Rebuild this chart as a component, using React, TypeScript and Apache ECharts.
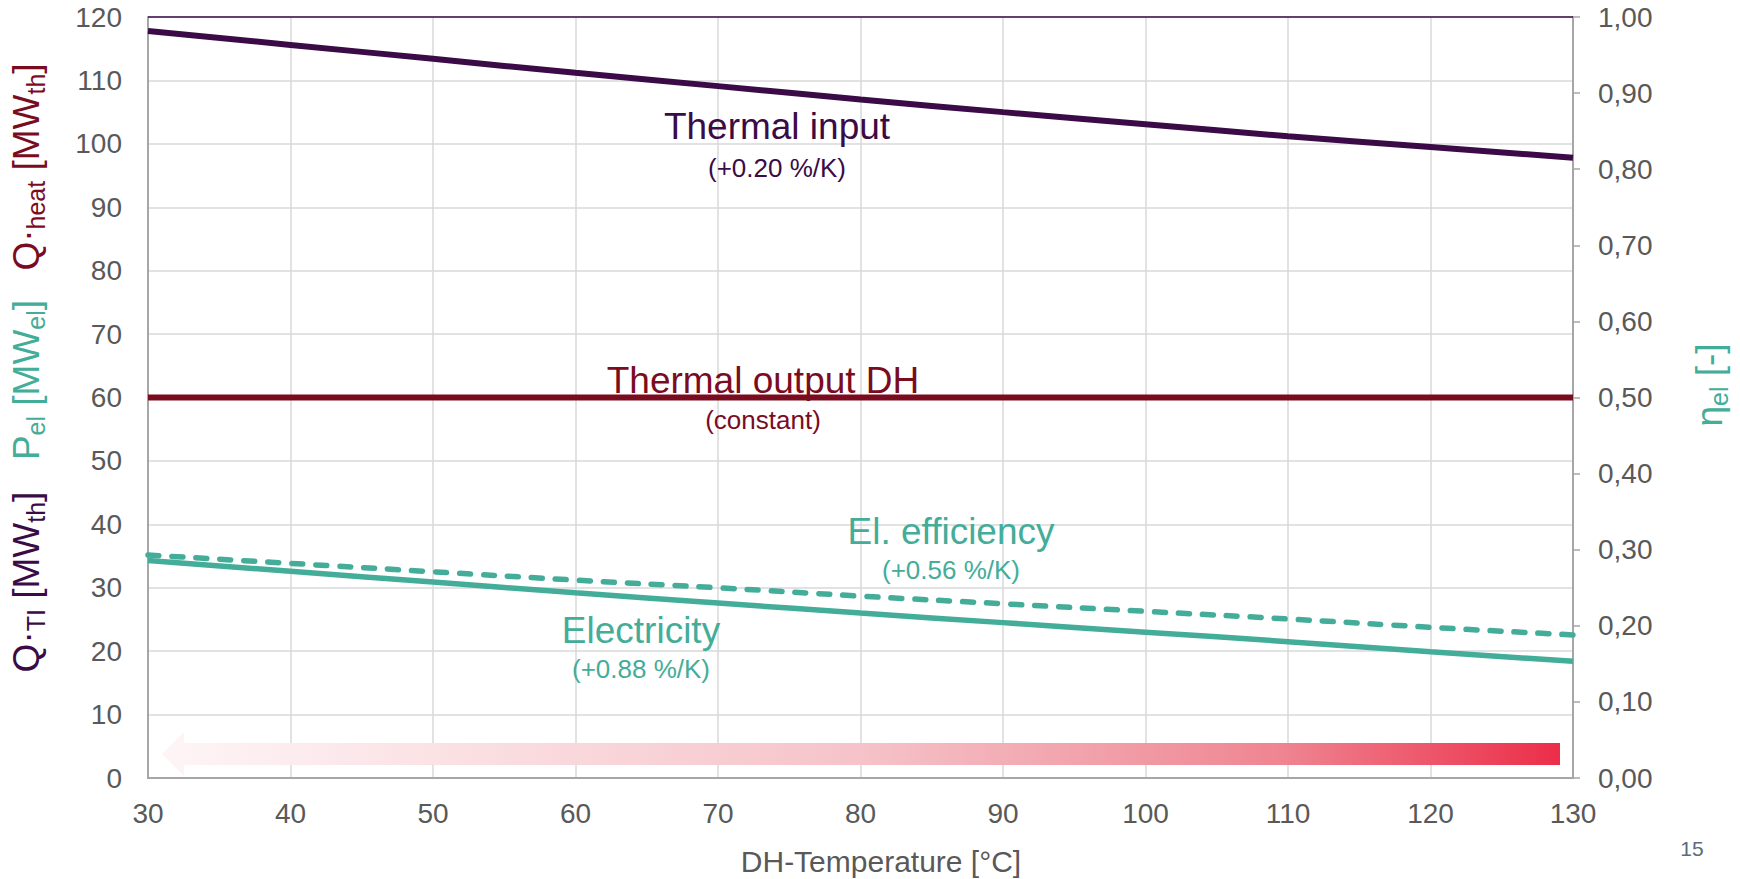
import React, { useEffect, useRef } from "react";
import * as echarts from "echarts";

const temperatures = [30, 40, 50, 60, 70, 80, 90, 100, 110, 120, 130];
const thermalInput = [117.8, 115.6, 113.4, 111.2, 109.1, 107.0, 105.0, 103.1, 101.2, 99.5, 97.8];
const thermalOutput = [60, 60, 60, 60, 60, 60, 60, 60, 60, 60, 60];
const electricity = [34.3, 32.6, 30.9, 29.2, 27.6, 26.0, 24.5, 23.0, 21.5, 19.9, 18.4];
const elEfficiency = [0.293, 0.282, 0.271, 0.26, 0.25, 0.239, 0.229, 0.219, 0.209, 0.198, 0.188];
const topBorderValue = 120;

const FONT = "Liberation Sans, Arial, sans-serif";
const PURPLE = "#3a0b46";
const MAROON = "#7a0c1f";
const TEAL = "#43ad99";
const GREY = "#595959";

const pairs = (ys: number[]) => temperatures.map((t, i) => [t, ys[i]]);

const rotatedLabel = (text: string, color: string, x: number, y: number) => ({
  type: "text",
  x,
  y,
  z: 100,
  rotation: Math.PI / 2,
  style: {
    text,
    fill: color,
    align: "center",
    verticalAlign: "middle",
    fontFamily: FONT,
    fontSize: 37,
    rich: {
      m: { fontSize: 37, lineHeight: 37, verticalAlign: "top", fill: color, fontFamily: FONT },
      s: { fontSize: 25, lineHeight: 25, padding: [16, 0, 0, 0], verticalAlign: "top", fill: color, fontFamily: FONT },
    },
  },
});

const plainText = (text: string, color: string, x: number, y: number, size: number) => ({
  type: "text",
  x,
  y,
  z: 100,
  style: { text, fill: color, align: "center", verticalAlign: "middle", fontFamily: FONT, fontSize: size },
});

export default function App() {
  const ref = useRef<HTMLDivElement>(null);
  useEffect(() => {
    if (!ref.current) return;
    const chart = echarts.init(ref.current, undefined, { renderer: "svg" });
    const option: any = {
      animation: false,
      backgroundColor: "#ffffff",
      grid: { left: 148, right: 167, top: 17, bottom: 101, containLabel: false },
      xAxis: {
        type: "value",
        min: 30,
        max: 130,
        interval: 10,
        axisLine: { show: true, lineStyle: { color: "#a6a6a6", width: 2 } },
        axisTick: { show: false },
        axisLabel: { color: GREY, fontSize: 28, fontFamily: FONT, margin: 21 },
        splitLine: { show: true, lineStyle: { color: "#d9d9d9", width: 1.5 } },
      },
      yAxis: [
        {
          type: "value",
          min: 0,
          max: 120,
          interval: 10,
          axisLine: { show: true, lineStyle: { color: "#a6a6a6", width: 2 } },
          axisTick: { show: false },
          axisLabel: { color: GREY, fontSize: 28, fontFamily: FONT, margin: 26 },
          splitLine: { show: true, lineStyle: { color: "#d9d9d9", width: 1.5 } },
        },
        {
          type: "value",
          min: 0,
          max: 1,
          interval: 0.1,
          position: "right",
          axisLine: { show: true, lineStyle: { color: "#a6a6a6", width: 2 } },
          axisTick: { show: true, length: 7, lineStyle: { color: "#a6a6a6", width: 1.5 } },
          axisLabel: {
            color: GREY,
            fontSize: 28,
            fontFamily: FONT,
            margin: 25,
            formatter: (v: number) => v.toFixed(2).replace(".", ","),
          },
          splitLine: { show: false },
        },
      ],
      series: [
        {
          name: "Thermal input",
          type: "line",
          yAxisIndex: 0,
          data: pairs(thermalInput),
          smooth: true,
          showSymbol: false,
          lineStyle: { color: PURPLE, width: 6 },
          markLine: {
            silent: true,
            symbol: "none",
            label: { show: false },
            lineStyle: { color: PURPLE, width: 1.5, type: "solid" },
            data: [{ yAxis: topBorderValue }],
          },
        },
        {
          name: "Thermal output DH",
          type: "line",
          yAxisIndex: 0,
          data: pairs(thermalOutput),
          showSymbol: false,
          lineStyle: { color: MAROON, width: 6 },
        },
        {
          name: "Electricity",
          type: "line",
          yAxisIndex: 0,
          data: pairs(electricity),
          smooth: true,
          showSymbol: false,
          lineStyle: { color: TEAL, width: 5.5 },
        },
        {
          name: "El. efficiency",
          type: "line",
          yAxisIndex: 1,
          data: pairs(elEfficiency),
          smooth: true,
          showSymbol: false,
          lineStyle: { color: TEAL, width: 5.5, type: [11, 13], cap: "round" },
        },
      ],
      graphic: [
        {
          type: "polygon",
          z: 100,
          shape: {
            points: [
              [162, 754],
              [184, 732],
              [184, 743],
              [1560, 743],
              [1560, 765],
              [184, 765],
              [184, 776],
            ],
          },
          style: {
            fill: new echarts.graphic.LinearGradient(0, 0, 1, 0, [
              { offset: 0, color: "#fef5f6" },
              { offset: 0.5, color: "#f5c3c9" },
              { offset: 0.8, color: "#ef8591" },
              { offset: 1, color: "#ec2d48" },
            ]),
          },
        },
        plainText("Thermal input", PURPLE, 777, 126, 37),
        plainText("(+0.20 %/K)", PURPLE, 777, 168, 26),
        plainText("Thermal output DH", MAROON, 763, 380, 37),
        plainText("(constant)", MAROON, 763, 420, 26),
        plainText("El. efficiency", TEAL, 951, 531, 37),
        plainText("(+0.56 %/K)", TEAL, 951, 570, 26),
        plainText("Electricity", TEAL, 641, 630, 37),
        plainText("(+0.88 %/K)", TEAL, 641, 669, 26),
        plainText("DH-Temperature [°C]", GREY, 881, 861, 30),
        plainText("15", "#5b6b7b", 1692, 848, 21),
        rotatedLabel("{m|Q·}{s|heat}{m| [MW}{s|th}{m|]}", MAROON, 26, 167),
        rotatedLabel("{m|P}{s|el}{m| [MW}{s|el}{m|]}", TEAL, 26, 380),
        rotatedLabel("{m|Q·}{s|TI}{m| [MW}{s|th}{m|]}", PURPLE, 26, 582),
        rotatedLabel("{m|η}{s|el}{m| [-]}", TEAL, 1709, 385),
      ],
    };
    chart.setOption(option);
    return () => chart.dispose();
  }, []);
  return (
    <div
      ref={ref}
      style={{ position: "fixed", left: 0, top: 0, width: 1740, height: 879, background: "#fff" }}
    />
  );
}
